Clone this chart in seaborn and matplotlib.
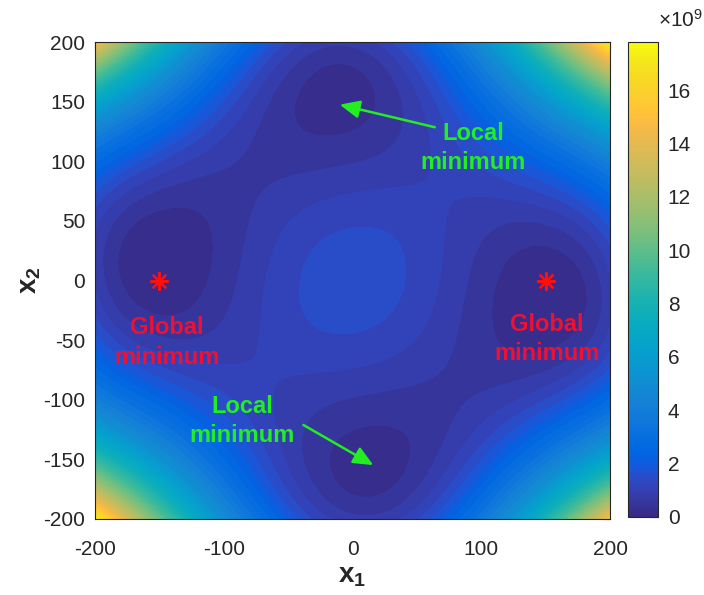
import numpy as np
import pandas as pd
import seaborn as sns
import matplotlib
matplotlib.use("Agg")
import matplotlib.pyplot as plt
from matplotlib.colors import LinearSegmentedColormap, Normalize
from matplotlib.cm import ScalarMappable

# ---------------- data ----------------
x1_range = [-200, 200]
x2_range = [-200, 200]
x_ticks = [-200, -100, 0, 100, 200]
y_ticks = [-200, -150, -100, -50, 0, 50, 100, 150, 200]
cbar_ticks = [0, 2, 4, 6, 8, 10, 12, 14, 16]
cbar_max = 17.8  # x 1e9

# polynomial surface coefficients (units 1e9, coords / 100)
coef_u4 = 0.30       # u^4
coef_v4 = 0.241      # v^4
coef_cross = 1.0     # u^2 v^2
coef_inner = 0.87    # extra u^2 v^2 weight inside the box
coef_edge = 0.05     # u^2 v^2 (v^2 - u^2)
coef_u2 = 1.35       # -u^2
coef_v2 = 1.157      # -v^2
coef_const = 1.52    # value at the origin
coef_tilt = 0.35     # u v

global_min_x1 = [-150, 150]
global_min_x2 = [0, 0]

local_labels = ["Local\nminimum", "Local\nminimum"]
local_label_pos = [(94, 111), (-86, -118)]
local_arrow_tail = [(66, 128), (-40, -120)]
local_arrow_head = [(-12, 148), (18, -156)]
global_labels = ["Global\nminimum", "Global\nminimum"]
global_label_pos = [(-144, -52), (151, -49)]

# ---------------- style ----------------
sns.set_theme(style="white")
plt.rcParams["font.family"] = ["Liberation Sans", "DejaVu Sans"]
plt.rcParams["mathtext.fontset"] = "custom"
plt.rcParams["mathtext.rm"] = "Liberation Sans"
plt.rcParams["mathtext.bf"] = "Liberation Sans:bold"
plt.rcParams["axes.unicode_minus"] = False

parula_pts = [
    (0.2081, 0.1663, 0.5292), (0.2116, 0.1898, 0.5777), (0.2123, 0.2138, 0.6270),
    (0.2081, 0.2386, 0.6771), (0.1959, 0.2645, 0.7279), (0.1707, 0.2919, 0.7792),
    (0.1253, 0.3242, 0.8303), (0.0591, 0.3598, 0.8683), (0.0117, 0.3875, 0.8820),
    (0.0060, 0.4086, 0.8828), (0.0165, 0.4266, 0.8786), (0.0329, 0.4430, 0.8720),
    (0.0498, 0.4586, 0.8641), (0.0629, 0.4737, 0.8554), (0.0723, 0.4887, 0.8467),
    (0.0779, 0.5040, 0.8384), (0.0793, 0.5200, 0.8312), (0.0749, 0.5375, 0.8263),
    (0.0641, 0.5570, 0.8240), (0.0488, 0.5772, 0.8228), (0.0343, 0.5966, 0.8199),
    (0.0265, 0.6137, 0.8135), (0.0239, 0.6287, 0.8038), (0.0231, 0.6418, 0.7913),
    (0.0228, 0.6535, 0.7768), (0.0267, 0.6642, 0.7607), (0.0384, 0.6743, 0.7436),
    (0.0590, 0.6838, 0.7254), (0.0843, 0.6928, 0.7062), (0.1133, 0.7015, 0.6859),
    (0.1453, 0.7098, 0.6646), (0.1801, 0.7177, 0.6424), (0.2178, 0.7250, 0.6193),
    (0.2586, 0.7317, 0.5954), (0.3022, 0.7376, 0.5712), (0.3482, 0.7424, 0.5473),
    (0.3953, 0.7459, 0.5244), (0.4420, 0.7481, 0.5033), (0.4871, 0.7491, 0.4840),
    (0.5300, 0.7491, 0.4661), (0.5709, 0.7485, 0.4494), (0.6099, 0.7473, 0.4337),
    (0.6473, 0.7456, 0.4188), (0.6834, 0.7435, 0.4044), (0.7184, 0.7411, 0.3905),
    (0.7525, 0.7384, 0.3768), (0.7858, 0.7356, 0.3633), (0.8185, 0.7327, 0.3498),
    (0.8507, 0.7299, 0.3360), (0.8824, 0.7274, 0.3217), (0.9139, 0.7258, 0.3063),
    (0.9450, 0.7261, 0.2886), (0.9739, 0.7314, 0.2666), (0.9938, 0.7455, 0.2403),
    (0.9990, 0.7653, 0.2164), (0.9955, 0.7861, 0.1967), (0.9880, 0.8066, 0.1794),
    (0.9789, 0.8271, 0.1633), (0.9697, 0.8481, 0.1475), (0.9626, 0.8705, 0.1309),
    (0.9589, 0.8949, 0.1132), (0.9598, 0.9218, 0.0948), (0.9661, 0.9514, 0.0755),
    (0.9763, 0.9831, 0.0538)]
parula = LinearSegmentedColormap.from_list("parula", parula_pts, N=256)

# ---------------- surface ----------------
g1 = np.linspace(x1_range[0], x1_range[1], 401)
g2 = np.linspace(x2_range[0], x2_range[1], 401)
X1, X2 = np.meshgrid(g1, g2)
u, v = X1 / 100.0, X2 / 100.0
inner = (4 - u ** 2) * (4 - v ** 2) / 16.0
uv2 = u ** 2 * v ** 2
Z = (coef_u4 * u ** 4 + coef_v4 * v ** 4
     + coef_cross * (1 + coef_inner * inner) * uv2
     + coef_edge * uv2 * (v ** 2 - u ** 2)
     - coef_u2 * u ** 2 - coef_v2 * v ** 2 + coef_const
     + coef_tilt * u * v)
Z = np.clip(Z - Z.min(), 0, None)

# ---------------- figure ----------------
fig = plt.figure(figsize=(7.04, 5.95), dpi=100)
ax = fig.add_axes([95 / 704, 1 - 519 / 595, 515 / 704, 477 / 595])
cax = fig.add_axes([628 / 704, 1 - 517 / 595, 30 / 704, 475 / 595])

levels = np.linspace(0, cbar_max, 54)
norm = Normalize(0, cbar_max)
ax.contourf(X1, X2, Z, levels=levels, cmap=parula, norm=norm, extend="max")

sns.scatterplot(x=global_min_x1, y=global_min_x2, ax=ax, marker=(8, 2, 0), s=150,
                color="#ff1010", edgecolor="#ff1010", linewidth=1.6, zorder=5)

for (tx, ty), lab in zip(local_label_pos, local_labels):
    ax.text(tx, ty, lab, color="#22ee22", fontsize=17, fontweight="bold",
            ha="center", va="center", linespacing=1.35)
for (tx, ty), (hx, hy) in zip(local_arrow_tail, local_arrow_head):
    ax.annotate("", xy=(hx, hy), xytext=(tx, ty),
                arrowprops=dict(arrowstyle="-|>,head_length=1.0,head_width=0.45",
                                color="#22ee22", lw=1.8))
for (tx, ty), lab in zip(global_label_pos, global_labels):
    ax.text(tx, ty, lab, color="#ee1133", fontsize=17, fontweight="bold",
            ha="center", va="center", linespacing=1.35)

ax.set_xlim(*x1_range)
ax.set_ylim(*x2_range)
ax.set_xticks(x_ticks)
ax.set_yticks(y_ticks)
ax.tick_params(direction="in", length=5, width=0.8, colors="#262626",
               labelsize=15, top=True, right=True)
ax.tick_params(axis="x", pad=15)
ax.tick_params(axis="y", pad=7)
for sp in ax.spines.values():
    sp.set_color("#262626")
    sp.set_linewidth(0.8)
ax.set_xlabel(r"$\mathbf{x}_\mathbf{1}$", fontsize=20, labelpad=3, color="#262626")
ax.set_ylabel(r"$\mathbf{x}_\mathbf{2}$", fontsize=20, labelpad=0, color="#262626")

sm = ScalarMappable(norm=norm, cmap=parula)
cb = fig.colorbar(sm, cax=cax, ticks=cbar_ticks)
cb.ax.tick_params(direction="in", length=5, width=0.8, colors="#262626", labelsize=15, pad=7)
cb.outline.set_edgecolor("#262626")
cb.outline.set_linewidth(0.8)
fig.text(658 / 704, 1 - 20 / 595, r"$\times\mathregular{10^9}$", fontsize=15, color="#262626",
         ha="left", va="center")

fig.savefig("out.png", dpi=100)
